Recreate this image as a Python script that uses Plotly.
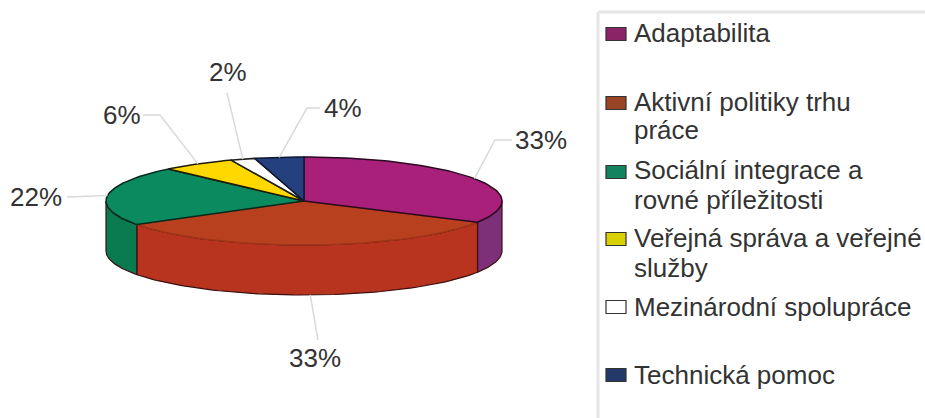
import numpy as np
import plotly.graph_objects as go

# ---- data ----
categories = ["Adaptabilita", "Aktivní politiky trhu práce", "Sociální integrace a rovné příležitosti",
              "Veřejná správa a veřejné služby", "Mezinárodní spolupráce", "Technická pomoc"]
values = [33, 33, 22, 6, 2, 4]
legend_lines = [["Adaptabilita"], ["Aktivní politiky trhu", "práce"],
                ["Sociální integrace a", "rovné příležitosti"],
                ["Veřejná správa a veřejné", "služby"], ["Mezinárodní spolupráce"], ["Technická pomoc"]]

# ---- style ----
top_colors = ["#A8207A", "#B8401F", "#0B8A60", "#FFD800", "#FFFFFF", "#24407F"]
side_colors = ["#7D2F78", "#B8341E", "#0A7A50", "#C9AA00", "#DDDDDD", "#1C3263"]
edge_colors = ["#2A0A20", "#A03418", "#06281C", "#201A00", "#202020", "#101830"]
swatch_colors = ["#8A2466", "#9A4426", "#13835F", "#D8D000", "#FFFFFF", "#24386A"]
CX, CY, RX, RY, DEPTH = 304, 201, 198, 44, 50
TEXT = "#333333"
FONT = "Liberation Sans, Arial, sans-serif"
PIE_SIZE, LEG_SIZE = 26, 26

label_pos = [(541, 140), (315, 358), (36, 197), (122, 115), (228, 72), (343, 108)]
leader_elbow = [[(495, 140), (512, 140)], [(318, 340)], [(67, 197)],
                [(160, 115), (143, 115)], [(227, 93)], [(307, 108), (320, 108)]]
legend_y = [[33], [102, 130], [170, 200], [238, 268], [307], [375]]
swatch_y = [34, 103, 172, 239, 307, 375]


def pt(a, dy=0.0):
    a = np.radians(a)
    return CX + RX * np.sin(a), CY - RY * np.cos(a) + dy


fig = go.Figure()
total = sum(values)
edges = np.cumsum([0] + values) / total * 360


def poly(xs, ys, fill, line, width=1.5):
    fig.add_trace(go.Scatter(x=xs, y=ys, mode="lines", fill="toself", fillcolor=fill,
                             line=dict(color=line, width=width), hoverinfo="skip", showlegend=False))


# side walls for the part of each slice that faces the viewer
for i in range(len(values)):
    a1, a2 = max(edges[i], 90), min(edges[i + 1], 270)
    if a2 <= a1:
        continue
    arc = np.linspace(a1, a2, 60)
    x_t, y_t = pt(arc)
    x_b, y_b = pt(arc, DEPTH)
    poly(np.r_[x_t, x_b[::-1], x_t[0]], np.r_[y_t, y_b[::-1], y_t[0]], side_colors[i], "#3A1010", 1.2)

# top faces: the large front slice first so that its neighbours' dark edges stay on top
for i in [1, 0, 2, 3, 4, 5]:
    arc = np.linspace(edges[i], edges[i + 1], 80)
    x_t, y_t = pt(arc)
    poly(np.r_[CX, x_t, CX], np.r_[CY, y_t, CY], top_colors[i], edge_colors[i], 1.5)

# leader lines
for i in range(len(values)):
    x_e, y_e = pt((edges[i] + edges[i + 1]) / 2, DEPTH if i == 1 else 0)
    xs = [x_e] + [p[0] for p in leader_elbow[i]]
    ys = [y_e] + [p[1] for p in leader_elbow[i]]
    fig.add_trace(go.Scatter(x=xs, y=ys, mode="lines", line=dict(color="#D9D9D9", width=1.5),
                             hoverinfo="skip", showlegend=False))

annotations = []
for i, v in enumerate(values):
    annotations.append(dict(x=label_pos[i][0], y=label_pos[i][1], text=f"{v}%", showarrow=False,
                            xanchor="center", yanchor="middle",
                            font=dict(family=FONT, size=PIE_SIZE, color=TEXT)))

shapes = [
    dict(type="line", x0=598, x1=925, y0=12, y1=12, line=dict(color="#E6E6E6", width=3)),
    dict(type="line", x0=598, x1=598, y0=12, y1=418, line=dict(color="#E6E6E6", width=3)),
]
for i, lines in enumerate(legend_lines):
    shapes.append(dict(type="rect", x0=606, x1=626, y0=swatch_y[i] - 6.5, y1=swatch_y[i] + 6.5,
                       fillcolor=swatch_colors[i], line=dict(color="#333333", width=1.2)))
    for line, y in zip(lines, legend_y[i]):
        annotations.append(dict(x=632, y=y, text=line, showarrow=False, xanchor="left", yanchor="middle",
                                font=dict(family=FONT, size=LEG_SIZE, color=TEXT)))

fig.update_layout(
    width=925, height=418, margin=dict(l=0, r=0, t=0, b=0),
    paper_bgcolor="white", plot_bgcolor="white", showlegend=False,
    xaxis=dict(range=[0, 925], visible=False, fixedrange=True),
    yaxis=dict(range=[418, 0], visible=False, fixedrange=True),
    annotations=annotations, shapes=shapes,
)
fig.write_html("out.html", post_script="document.body.style.margin='0';",
               config={"displayModeBar": False})
